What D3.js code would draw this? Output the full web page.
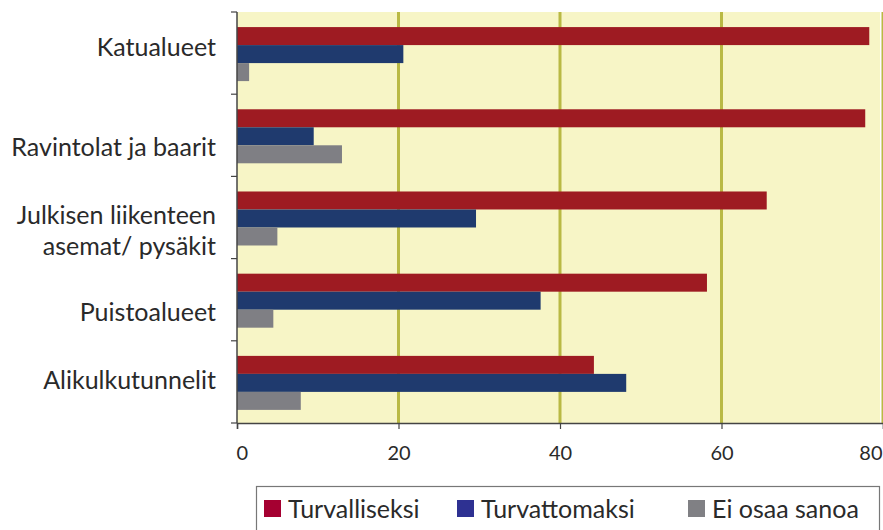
<!DOCTYPE html>
<html><head><meta charset="utf-8">
<script src="https://cdn.jsdelivr.net/npm/d3@7/dist/d3.min.js"></script>
<style>body{margin:0;background:#fff}svg{display:block}text{font-family:Lato,"Open Sans",sans-serif}</style>
</head><body><svg id="c" width="883" height="530"></svg>
<script>
const categories = ["Katualueet","Ravintolat ja baarit","Julkisen liikenteen asemat/ pysäkit","Puistoalueet","Alikulkutunnelit"];
const categoryLines = [["Katualueet"],["Ravintolat ja baarit"],["Julkisen liikenteen","asemat/ pysäkit"],["Puistoalueet"],["Alikulkutunnelit"]];
const seriesNames = ["Turvalliseksi","Turvattomaksi","Ei osaa sanoa"];
const turvalliseksi = [78.3, 77.8, 65.6, 58.2, 44.2];
const turvattomaksi = [20.6, 9.5, 29.6, 37.6, 48.2];
const eiOsaa = [1.5, 13.0, 5.0, 4.5, 7.9];
const xTicks = [0, 20, 40, 60, 80];

// layout / style
const barColors = ["#9e1b22","#1f3a6e","#7f7f84"];
const legendColors = ["#a50031","#2e3192","#808084"];
const labelShift = [-6, 12, 13, 12, -2];
const series = [turvalliseksi, turvattomaksi, eiOsaa];

const svg = d3.select("#c");
const L = 237, R = 883, T = 12, B = 423;
const x = d3.scaleLinear().domain([0, 80]).range([L, R]);
const y = d3.scaleBand().domain(categories).range([T, B]).paddingInner(0).paddingOuter(0);
const inner = d3.scaleBand().domain(seriesNames).range([0, y.bandwidth()]).paddingOuter(0.783).paddingInner(0).align(0.535);

svg.append("rect").attr("x", L).attr("y", T).attr("width", 880 - L).attr("height", B - T).attr("fill", "#f7f5c6");

svg.append("g").selectAll("line").data(xTicks.slice(1)).join("line")
  .attr("x1", d => x(d)).attr("x2", d => x(d)).attr("y1", T).attr("y2", B)
  .attr("stroke", "#b9b944").attr("stroke-width", 3);

const g = svg.append("g");
seriesNames.forEach((s, si) => {
  g.append("g").selectAll("rect").data(categories).join("rect")
    .attr("x", x(0))
    .attr("y", c => y(c) + inner(s))
    .attr("width", (c, i) => x(series[si][i]) - x(0))
    .attr("height", inner.bandwidth())
    .attr("fill", barColors[si]);
});

// x axis
const xa = svg.append("g").attr("transform", `translate(0,${B})`)
  .call(d3.axisBottom(x).tickValues(xTicks).tickSize(6).tickFormat(d3.format("d")));
xa.select(".domain").attr("stroke", "#444").attr("stroke-width", 1.5);
xa.selectAll(".tick line").attr("stroke", "#444").attr("stroke-width", 1.2);
xa.selectAll(".tick text").attr("font-size", 20).attr("fill", "#2a2a2a").attr("y", 37).attr("dy", 0)
  .attr("font-family", "Lato, sans-serif").attr("font-weight", 400)
  .attr("text-anchor", d => d === 80 ? "end" : d === 0 ? "start" : "middle")
  .attr("dx", d => d === 80 ? "-1" : d === 0 ? "-1" : "0");

// y axis line + category separator ticks
const ya = svg.append("g").attr("transform", `translate(${L},0)`);
ya.append("line").attr("x1", 0).attr("x2", 0).attr("y1", T).attr("y2", B).attr("stroke", "#444").attr("stroke-width", 1.5);
const seps = categories.map(c => y(c)).concat([B]);
ya.selectAll("line.sep").data(seps).join("line").attr("class", "sep")
  .attr("x1", -6).attr("x2", 0).attr("y1", d => d).attr("y2", d => d).attr("stroke", "#444").attr("stroke-width", 1.2);

// category labels
const lab = svg.append("g");
categories.forEach((c, i) => {
  const lines = categoryLines[i];
  const cy = y(c) + y.bandwidth() / 2 + labelShift[i];
  const lh = 31;
  const t = lab.append("text").attr("text-anchor", "end").attr("font-size", 25).attr("font-weight", 400).attr("fill", "#2a2a2a");
  lines.forEach((ln, k) => {
    t.append("tspan").attr("x", 216).attr("y", cy + (k - (lines.length - 1) / 2) * lh).attr("dy", "0.36em").text(ln);
  });
});

// legend
const lg = svg.append("g");
lg.append("rect").attr("x", 256.5).attr("y", 486.5).attr("width", 623).attr("height", 60).attr("fill", "#fff").attr("stroke", "#777").attr("stroke-width", 1.2);
const legX = [264, 457, 688];
seriesNames.forEach((s, i) => {
  lg.append("rect").attr("x", legX[i]).attr("y", 500).attr("width", 17).attr("height", 17).attr("fill", legendColors[i]);
  lg.append("text").attr("x", legX[i] + 24).attr("y", 518).attr("font-size", 25).attr("font-weight", 400).attr("fill", "#2a2a2a").text(s);
});
</script></body></html>
